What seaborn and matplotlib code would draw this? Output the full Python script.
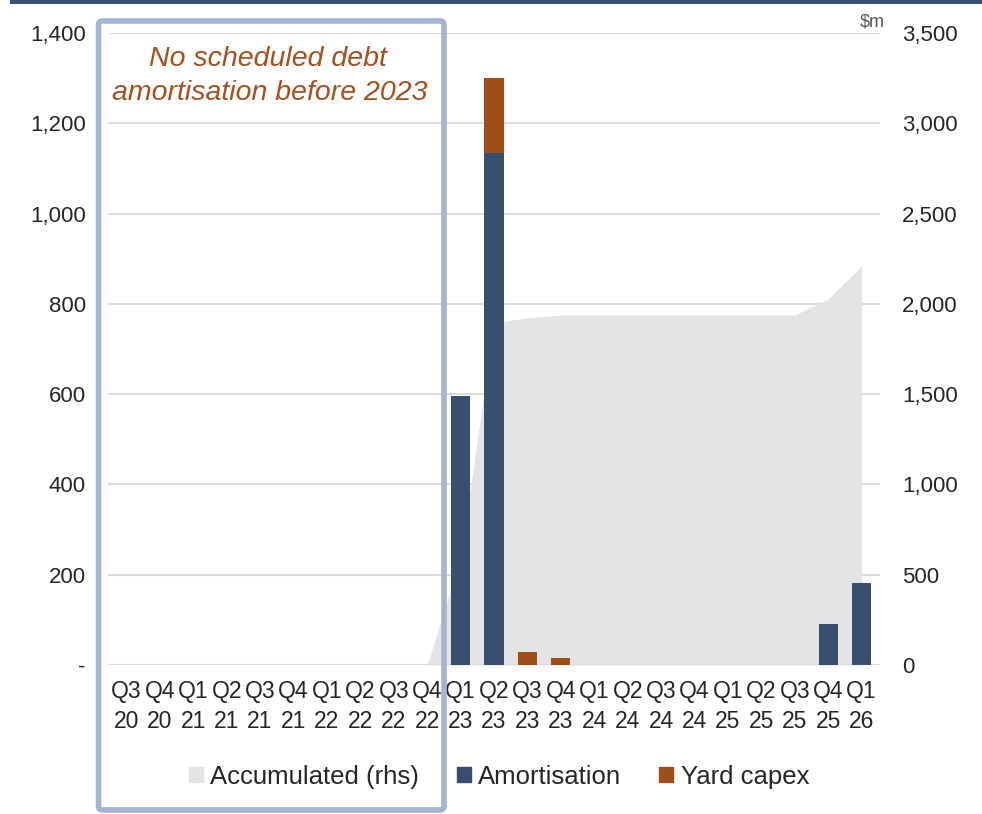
import matplotlib.pyplot as plt
import matplotlib.patches as mpatches
from matplotlib.ticker import FuncFormatter, MultipleLocator
from matplotlib.transforms import IdentityTransform
import seaborn as sns

quarters = ["Q3\n20", "Q4\n20", "Q1\n21", "Q2\n21", "Q3\n21", "Q4\n21",
            "Q1\n22", "Q2\n22", "Q3\n22", "Q4\n22", "Q1\n23", "Q2\n23",
            "Q3\n23", "Q4\n23", "Q1\n24", "Q2\n24", "Q3\n24", "Q4\n24",
            "Q1\n25", "Q2\n25", "Q3\n25", "Q4\n25", "Q1\n26"]
amortisation = [0, 0, 0, 0, 0, 0, 0, 0, 0, 0, 595, 1134, 0, 0,
                0, 0, 0, 0, 0, 0, 0, 90, 181]
yard_capex = [0, 0, 0, 0, 0, 0, 0, 0, 0, 0, 0, 166, 28, 15,
              0, 0, 0, 0, 0, 0, 0, 0, 0]
accumulated = [0, 0, 0, 0, 0, 0, 0, 0, 0, 0, 595, 1895, 1923, 1938,
               1938, 1938, 1938, 1938, 1938, 1938, 1938, 2028, 2209]

NAVY = "#384e6e"
ORANGE = "#a04e19"
AREA = "#e4e4e4"
GRID = "#dcdcdc"
BOX = "#a3b5d3"

sns.set_theme(style="white")
plt.rcParams["font.family"] = ["Liberation Sans", "DejaVu Sans"]

fig = plt.figure(figsize=(9.82, 8.14), dpi=100)
ax = fig.add_axes([108 / 982, 149 / 814, 772 / 982, 632 / 814])
ax2 = ax.twinx()

# accumulated area on the right axis, behind the bars
x = list(range(len(quarters)))
ax2.fill_between(x, accumulated, color=AREA, lw=0)
ax2.set_ylim(0, 3500)
ax2.yaxis.set_major_locator(MultipleLocator(500))
ax2.yaxis.grid(True, color=GRID, lw=1.5)
ax2.set_axisbelow(True)
ax2.yaxis.set_major_formatter(FuncFormatter(lambda v, p: f"{v:,.0f}"))

# stacked bars: total in capex colour, amortisation drawn over it
totals = [a + c for a, c in zip(amortisation, yard_capex)]
sns.barplot(x=quarters, y=totals, order=quarters, color=ORANGE,
            saturation=1, width=0.57, linewidth=0, ax=ax)
sns.barplot(x=quarters, y=amortisation, order=quarters, color=NAVY,
            saturation=1, width=0.57, linewidth=0, ax=ax)
ax.set_zorder(ax2.get_zorder() + 1)
ax.patch.set_visible(False)
ax.axhline(0, color=GRID, lw=1.5, zorder=0.5)

ax.set_xlim(-0.55, len(quarters) - 0.45)
ax.set_ylim(0, 1400)
ax.yaxis.set_major_locator(MultipleLocator(200))
ax.yaxis.set_major_formatter(
    FuncFormatter(lambda v, p: "-" if v == 0 else f"{v:,.0f}"))
ax.set_xlabel("")
ax.set_ylabel("")
ax.grid(False)

for a in (ax, ax2):
    for s in a.spines.values():
        s.set_visible(False)
ax.tick_params(axis="x", length=0, pad=11, labelsize=16.5)
ax.tick_params(axis="y", length=0, pad=16, labelsize=16)
ax2.tick_params(axis="y", length=0, pad=16, labelsize=16)
for t in ax.get_xticklabels():
    t.set_linespacing(1.4)

# decorations
fig.add_artist(mpatches.Rectangle((10 / 982, 810 / 814), 1, 4 / 814,
                                  transform=fig.transFigure,
                                  color="#3b5272", lw=0))
fig.add_artist(mpatches.FancyBboxPatch(
    (98.5, 4), 345.5, 789, boxstyle="round,pad=0,rounding_size=4",
    transform=IdentityTransform(), fill=False, edgecolor=BOX, lw=4,
    zorder=5))
fig.text(268 / 982, (814 - 66) / 814, "No scheduled debt", ha="center",
         va="baseline", fontsize=20.5, style="italic", color="#a5501e")
fig.text(270 / 982, (814 - 100) / 814, "amortisation before 2023",
         ha="center", va="baseline", fontsize=20.5, style="italic",
         color="#a5501e")
fig.text(885 / 982, (814 - 22) / 814, "$m", ha="right", va="center",
         fontsize=13, color="#595959")

handles = [mpatches.Patch(color=AREA, label="Accumulated (rhs)"),
           mpatches.Patch(color=NAVY, label="Amortisation"),
           mpatches.Patch(color=ORANGE, label="Yard capex")]
fig.legend(handles=handles, loc="center", bbox_to_anchor=(0.508, 0.046),
           ncol=3, frameon=False, fontsize=18.5, handlelength=0.55,
           handleheight=0.55, handletextpad=0.3, columnspacing=1.45)

fig.savefig("out.png", dpi=100)
